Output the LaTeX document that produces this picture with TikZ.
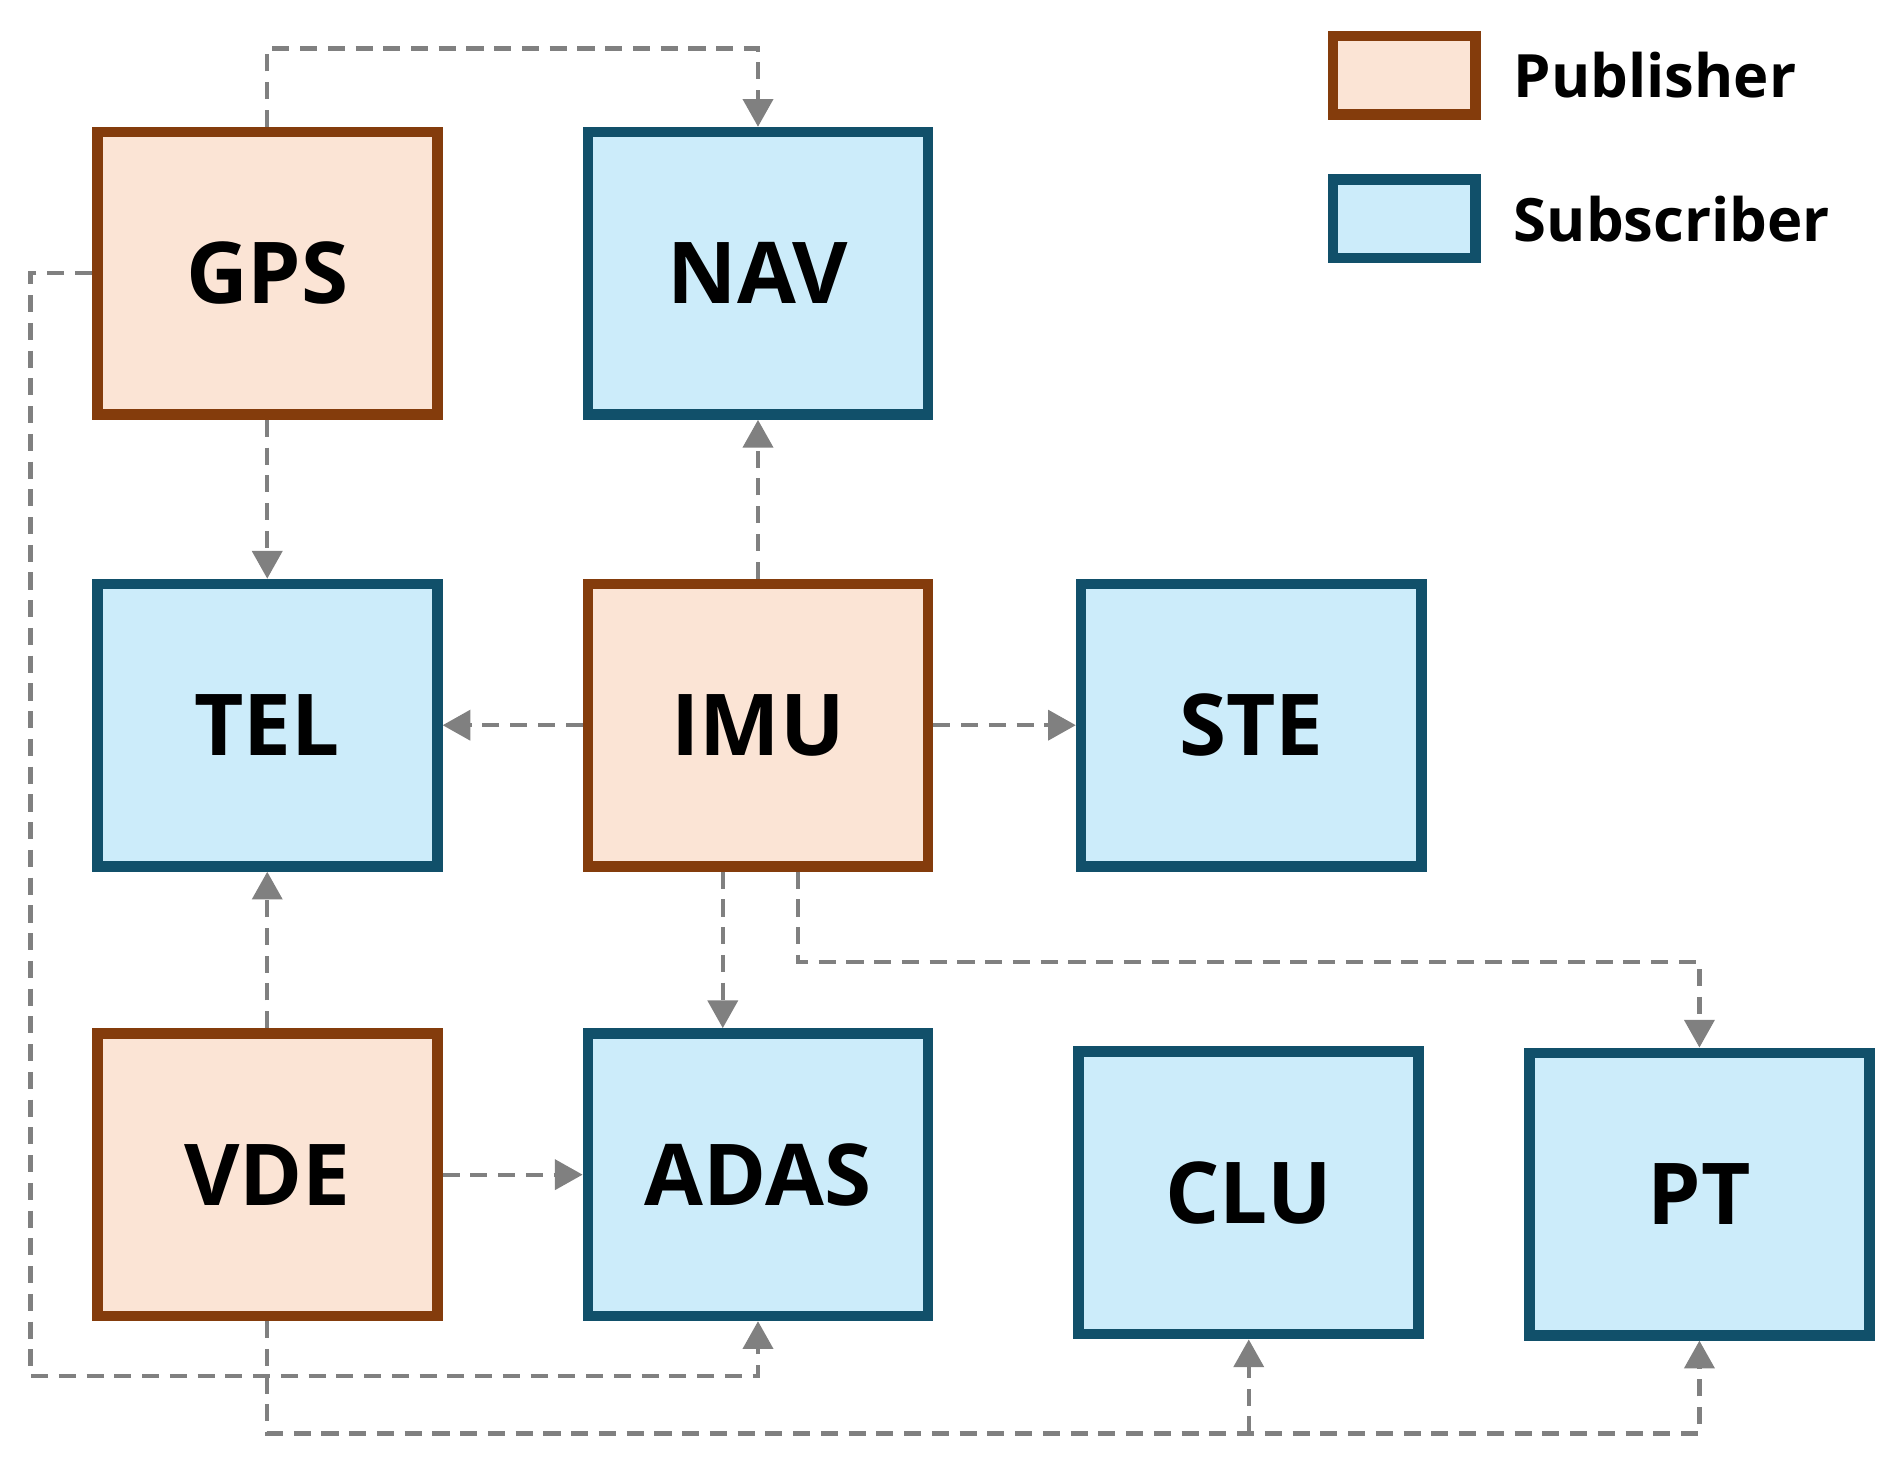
\documentclass[tikz,border=0pt]{standalone}
\usepackage{fontspec}
\setmainfont{Open Sans}
\usetikzlibrary{arrows, arrows.meta, calc}
\definecolor{pubfill}{RGB}{251,228,213}
\definecolor{publine}{RGB}{132,60,12}
\definecolor{subfill}{RGB}{204,236,250}
\definecolor{subline}{RGB}{17,80,106}
\definecolor{wire}{RGB}{128,128,128}
\begin{document}
\begin{tikzpicture}
    [
      x=0.02cm, y=-0.02cm,
      box/.style={draw, line width=5pt, minimum width=5.6cm, minimum height=4.65cm,
        font=\fontsize{40}{46}\selectfont\bfseries},
      pub/.style={box, fill=pubfill, draw=publine},
      sub/.style={box, fill=subfill, draw=subline},
      key/.style={draw, line width=5pt, minimum width=2.35cm, minimum height=1.3cm},
      keytext/.style={anchor=west, font=\fontsize{28}{32}\selectfont\bfseries},
      link/.style={wire, dash pattern=on 8pt off 5pt, line width=2pt, ->,
        >={Triangle[length=13pt,width=14pt]}}
    ]
    \useasboundingbox (0,0) rectangle (1560,1200);
    % nodes
    \node [pub] (gps) at (220,225) {GPS};
    \node [sub] (nav) at (624,225) {NAV};
    \node [sub] (tel) at (220,597) {TEL};
    \node [pub] (imu) at (624,597) {IMU};
    \node [sub] (ste) at (1030,597) {STE};
    \node [pub] (vde) at (220,967) {VDE};
    \node [sub] (adas) at (624,967) {ADAS};
    \node [sub] (clu) at (1028,982) {CLU};
    \node [sub] (pt) at (1399,983) {PT};
    % legend
    \node [key, fill=pubfill, draw=publine] (kpub) at (1156,62) {};
    \node [keytext] (tpub) at (1240,62) {Publisher};
    \node [key, fill=subfill, draw=subline] (ksub) at (1156,180) {};
    \node [keytext] (tsub) at (1240,180) {Subscriber};
    % links
    \draw [link] (gps.north) |- (422,40) -| (nav.north);
    \draw [link] (gps.west) -| (25,1133) -| (adas.south);
    \draw [link] (gps) -- (tel);
    \draw [link] (imu) -- (nav);
    \draw [link] (imu) -- (tel);
    \draw [link] (imu) -- (ste);
    \draw [link] ($(imu.south)+(-29,0)$) -- ($(adas.north)+(-29,0)$);
    \draw [link] ($(imu.south)+(33,0)$) |- (1000,792) -| (pt.north);
    \draw [link] (vde) -- (tel);
    \draw [link] (vde) -- (adas);
    \draw [link] (vde.south) |- (800,1180) -| (pt.south);
    \draw [link] (clu.south |- 0,1180) -- (clu.south);
\end{tikzpicture}
\end{document}
